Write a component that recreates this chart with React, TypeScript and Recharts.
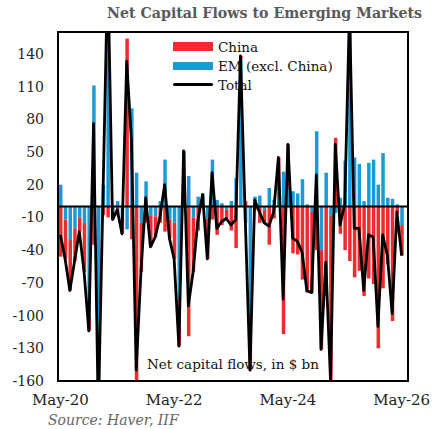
import {
  ComposedChart,
  Bar,
  Line,
  XAxis,
  YAxis,
  ReferenceLine,
} from 'recharts';

const RED = '#EE2B2E';
const BLUE = '#1C9AD6';
const FONT = '"DejaVu Serif", Georgia, serif';

// monthly, May-20 .. May-26
const MONTHS = [
  'May-20', 'Jun-20', 'Jul-20', 'Aug-20', 'Sep-20', 'Oct-20', 'Nov-20', 'Dec-20',
  'Jan-21', 'Feb-21', 'Mar-21', 'Apr-21', 'May-21', 'Jun-21', 'Jul-21', 'Aug-21', 'Sep-21', 'Oct-21', 'Nov-21', 'Dec-21',
  'Jan-22', 'Feb-22', 'Mar-22', 'Apr-22', 'May-22', 'Jun-22', 'Jul-22', 'Aug-22', 'Sep-22', 'Oct-22', 'Nov-22', 'Dec-22',
  'Jan-23', 'Feb-23', 'Mar-23', 'Apr-23', 'May-23', 'Jun-23', 'Jul-23', 'Aug-23', 'Sep-23', 'Oct-23', 'Nov-23', 'Dec-23',
  'Jan-24', 'Feb-24', 'Mar-24', 'Apr-24', 'May-24', 'Jun-24', 'Jul-24', 'Aug-24', 'Sep-24', 'Oct-24', 'Nov-24', 'Dec-24',
  'Jan-25', 'Feb-25', 'Mar-25', 'Apr-25', 'May-25', 'Jun-25', 'Jul-25', 'Aug-25', 'Sep-25', 'Oct-25', 'Nov-25', 'Dec-25',
  'Jan-26', 'Feb-26', 'Mar-26', 'Apr-26', 'May-26',
];

// $ bn
const EM_EX_CHINA = [
  20, -12, -30, -20, -10, -15, -100, 111, -180, 20,
  230, -5, 5, -10, -21, 90, 31, -15, 23, -8,
  -9, 5, 43, -12, -15, -85, 11, 28, -10, 9,
  12, -11, 43, 6, 3, -3, 5, 26, 135, -15,
  -100, 9, 10, -3, 17, 6, 15, 32, 17, 14,
  12, 25, 2, -5, 69, -40, 31, -8, -6, 8,
  42, 230, 45, 39, 5, 40, 43, 20, 49, 8,
  7, 2, -17,
];

const CHINA = [
  -46, -36, -47, -30, -13, -45, -14, -35, -10, -8,
  -10, -7, -8, -15, 154, -30, -181, -45, -15, -29,
  -19, -15, -23, -17, -33, -43, 40, -119, -50, -22,
  -1, -37, -12, -26, -17, -8, -22, -38, 3, 5,
  -50, -3, -15, -12, -35, -11, 30, -117, 40, -43,
  -44, -67, -79, -74, -40, -91, -82, -152, 63, -25,
  -40, -50, -65, -59, -82, -66, -71, -130, -75, -53,
  -105, -7, -28,
];

const TOTAL = [
  -26, -48, -77, -50, -23, -60, -114, 76, -190, 12,
  220, -12, -3, -25, 133, 60, -150, -60, 8, -37,
  -28, -10, 20, -29, -48, -128, 51, -91, -60, -13,
  11, -48, 31, -20, -14, -11, -17, -12, 138, -10,
  -150, 6, -5, -15, -18, -5, 45, -85, 57, -29,
  -32, -42, -77, -79, 29, -131, -51, -160, 57, -17,
  2, 180, -20, -20, -77, -26, -28, -110, -26, -45,
  -98, -5, -45,
];

const Y_TICKS = [140, 110, 80, 50, 20, -10, -40, -70, -100, -130, -160];

const data = MONTHS.map((m, i) => ({
  month: m,
  em: EM_EX_CHINA[i],
  china: CHINA[i],
  total: TOTAL[i],
}));

function LegendBox() {
  const row = { display: 'flex', alignItems: 'center', height: 19 };
  return (
    <div style={{ position: 'absolute', left: 173, top: 37, fontSize: 13.5, color: '#111', whiteSpace: 'nowrap' }}>
      <div style={row}>
        <span style={{ width: 40, height: 9, background: RED, marginRight: 5 }} />
        China
      </div>
      <div style={row}>
        <span style={{ width: 40, height: 8, background: BLUE, marginRight: 5 }} />
        EM (excl. China)
      </div>
      <div style={row}>
        <span style={{ width: 40, height: 3, background: '#000', borderRadius: 2, marginRight: 5 }} />
        Total
      </div>
    </div>
  );
}

export default function App() {
  return (
    <div style={{ position: 'absolute', left: 0, top: 0, width: 445, height: 429, background: '#fff', fontFamily: FONT }}>
      <div style={{ position: 'absolute', left: 107, top: 5, fontSize: 14.2, fontWeight: 'bold', color: '#595959', whiteSpace: 'nowrap' }}>
        Net Capital Flows to Emerging Markets
      </div>
      <ComposedChart
        width={445}
        height={429}
        data={data}
        stackOffset="sign"
        margin={{ top: 32, right: 37, bottom: 18, left: 0 }}
      >
        <XAxis
          dataKey="month"
          interval={23}
          tickLine={false}
          tickSize={0}
          tickMargin={13}
          padding={{ left: 0, right: 4 }}
          axisLine={false}
          tick={{ fontSize: 15, fill: '#222', fontFamily: FONT }}
          height={30}
        />
        <YAxis
          domain={[-160, 160]}
          ticks={Y_TICKS}
          allowDataOverflow
          tickLine={false}
          tickSize={0}
          tickMargin={14}
          axisLine={false}
          width={58}
          tick={{ fontSize: 14, fill: '#222', fontFamily: FONT }}
        />
        <Bar dataKey="em" name="EM (excl. China)" stackId="flows" fill={BLUE} barSize={3.5} isAnimationActive={false} />
        <Bar dataKey="china" name="China" stackId="flows" fill={RED} barSize={3.5} isAnimationActive={false} />
        <ReferenceLine y={0} stroke="#000" strokeWidth={2} />
        <Line
          dataKey="total"
          name="Total"
          type="linear"
          stroke="#000"
          strokeWidth={2.8}
          strokeLinejoin="round"
          dot={false}
          activeDot={false}
          isAnimationActive={false}
        />
      </ComposedChart>
      {/* plot frame */}
      <div style={{ position: 'absolute', left: 57, top: 31, width: 352, height: 351, border: '2px solid #000', boxSizing: 'border-box', pointerEvents: 'none' }} />
      <LegendBox />
      <div style={{ position: 'absolute', left: 147, top: 356, fontSize: 13.5, color: '#111', whiteSpace: 'nowrap' }}>
        Net capital flows, in $ bn
      </div>
      <div style={{ position: 'absolute', left: 48, top: 412, fontSize: 14, fontStyle: 'italic', color: '#666', whiteSpace: 'nowrap' }}>
        Source: Haver, IIF
      </div>
    </div>
  );
}
